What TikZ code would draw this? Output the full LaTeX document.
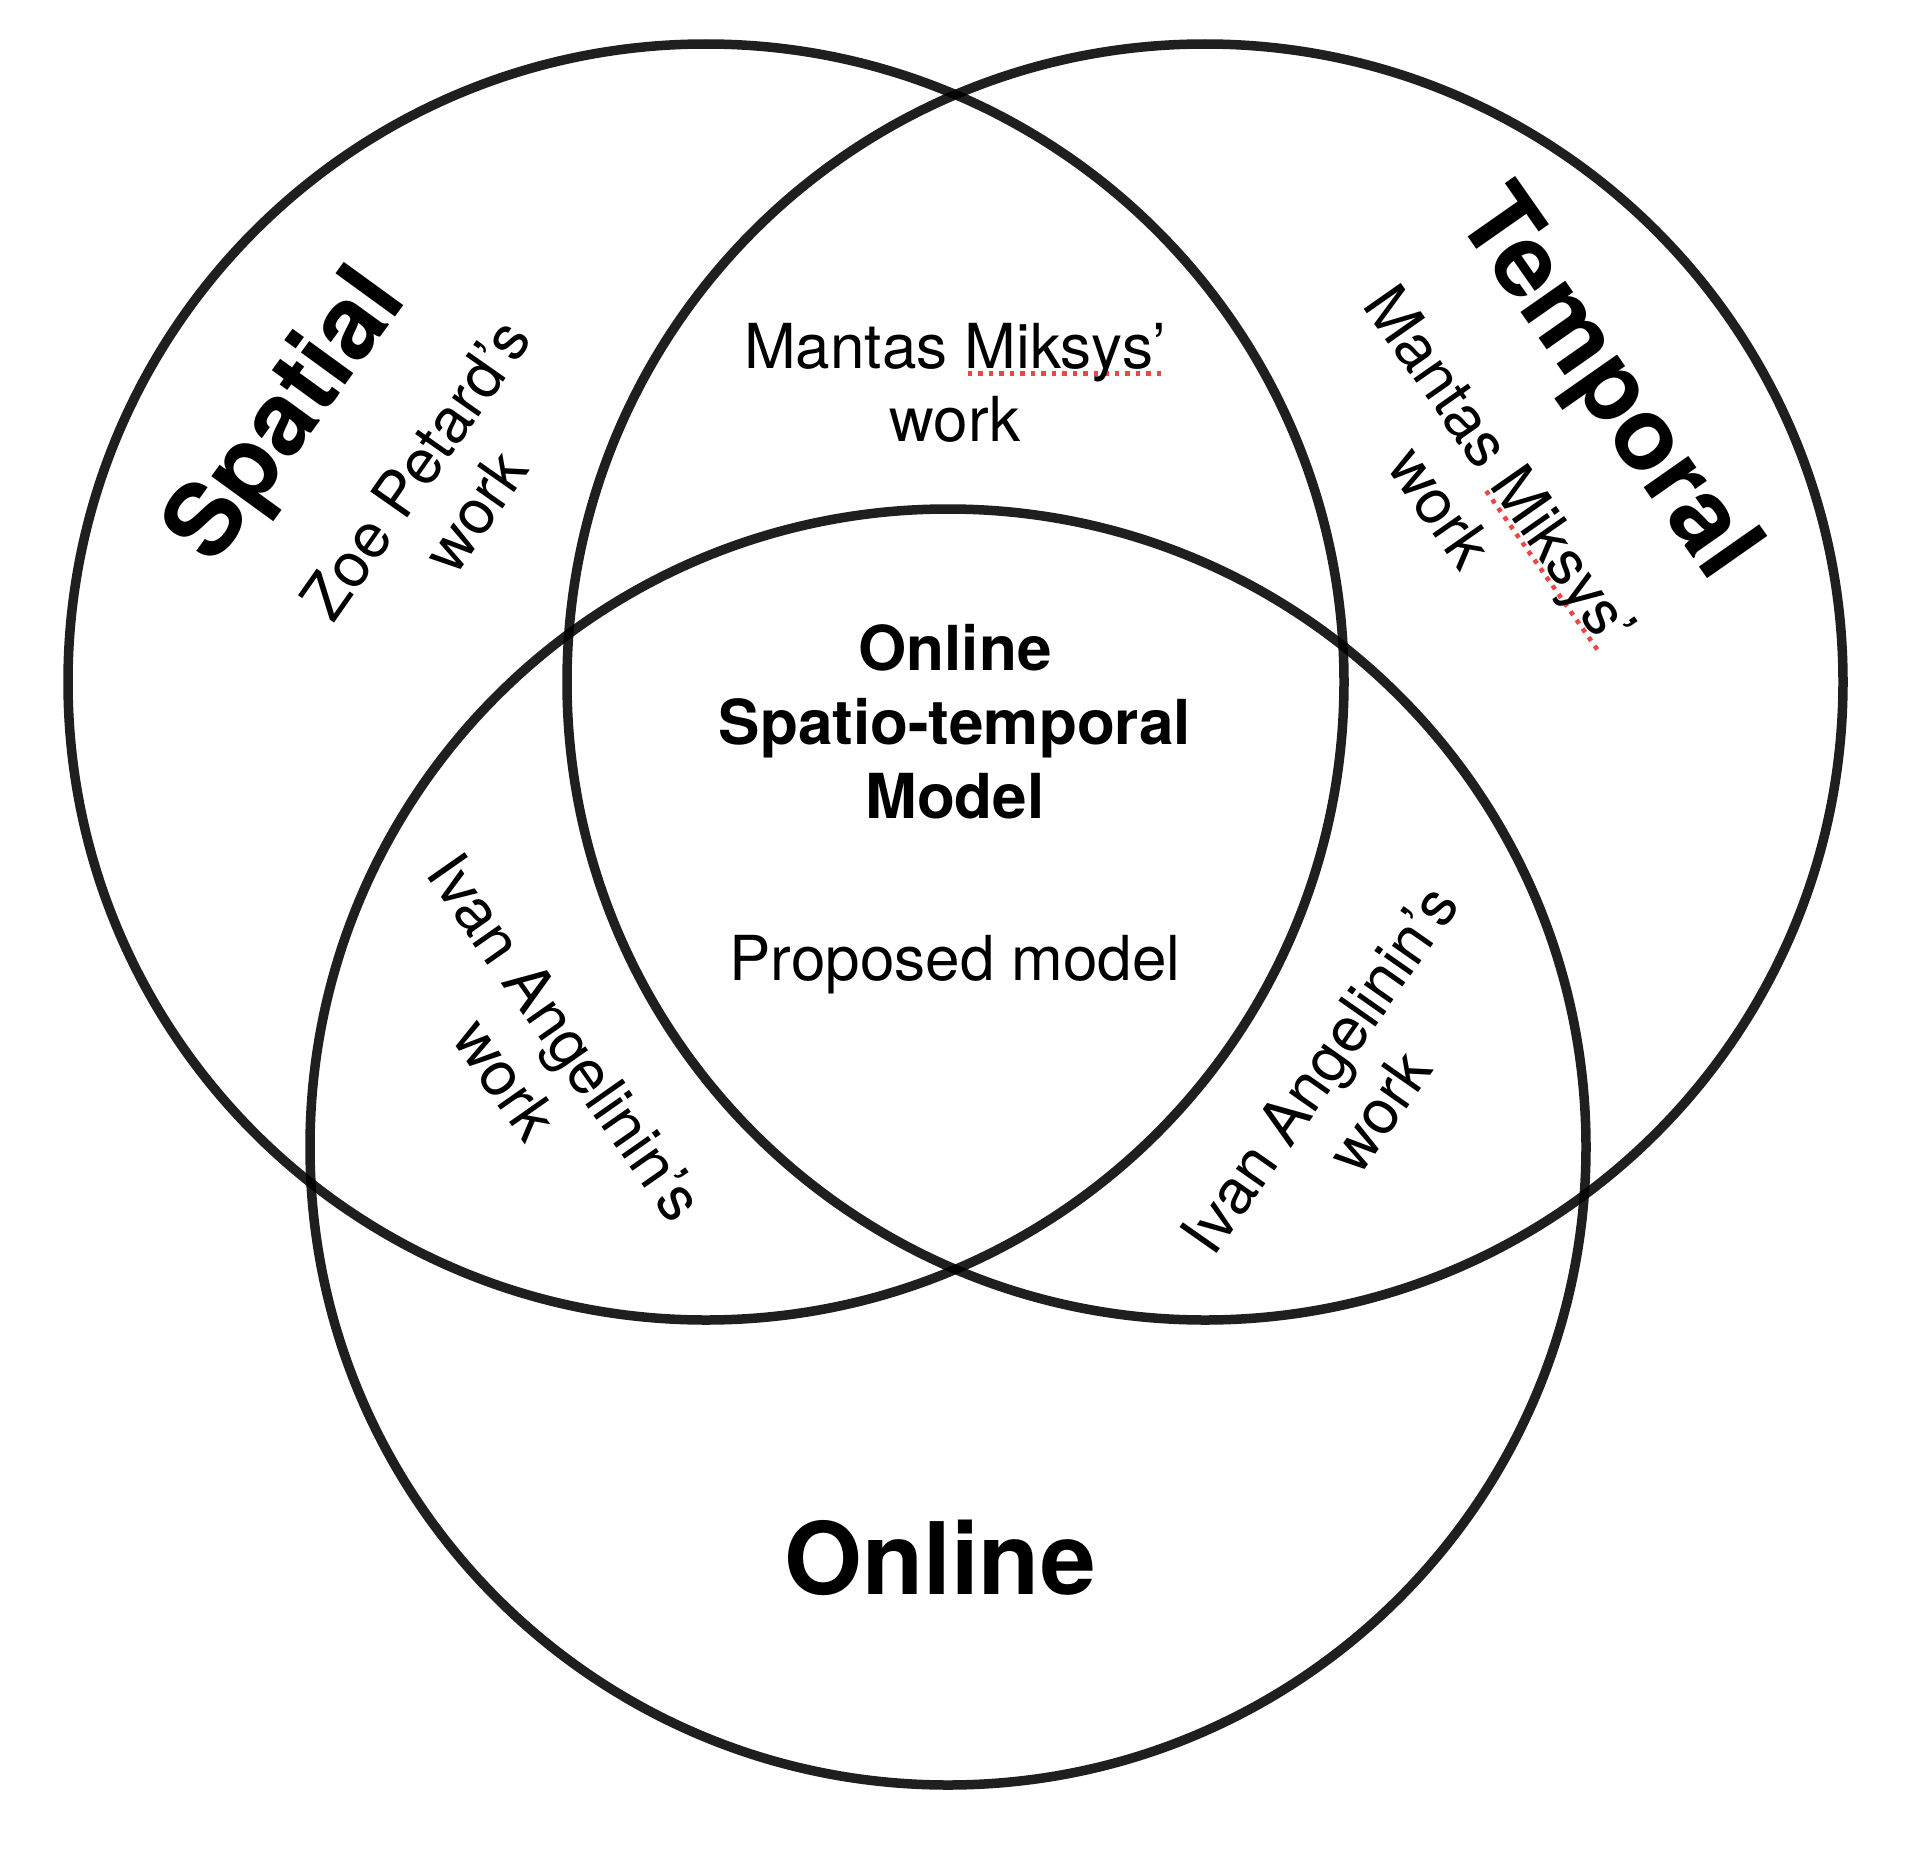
\documentclass[tikz,border=0pt]{standalone}
\usepackage{fontspec}
\setmainfont{TeX Gyre Heros}
\definecolor{ringgray}{HTML}{1E1E1E}
\definecolor{spellred}{HTML}{EE4444}
\newsavebox\spellbox
\newcommand\spellmark[1]{%
  \sbox\spellbox{#1}%
  \rlap{\raisebox{-7pt}{\textcolor{spellred}{\hbox to \wd\spellbox{\leaders\hbox to 10.5pt{\hss\rule{4.5pt}{4.5pt}\hss}\hfill}}}}#1}
\begin{document}
\begin{tikzpicture}[x=1pt,y=-1pt,
  ring/.style={line width=9.5pt, draw=black, draw opacity=0.88},
  worktxt/.style={align=center, inner sep=0pt, font=\fontsize{62}{73}\selectfont},
  coretxt/.style={align=center, inner sep=0pt, font=\fontsize{62}{74}\selectfont\bfseries},
  settxt/.style={inner sep=0pt, font=\fontsize{101}{115}\selectfont\bfseries},
  bigtxt/.style={inner sep=0pt, font=\fontsize{100}{115}\selectfont\bfseries}]
\useasboundingbox (0,0) rectangle (1920,1852);
\fill[white] (0,0) rectangle (1920,1852);
% circle centres
\coordinate (cs) at (706,682);
\coordinate (ct) at (1205,682);
\coordinate (co) at (948,1147);
\draw[ring] (cs) circle[radius=638];
\draw[ring] (ct) circle[radius=638];
\draw[ring] (co) circle[radius=638];
% set labels
\node[settxt, rotate=54] (spatial) at (289,418) {Spatial};
\node[settxt, rotate=-55] (temporal) at (1604,386) {Temporal};
\node[bigtxt, anchor=base] (online) at (940,1594) {Online};
% region labels
\node[worktxt] (mmtop) at (955,383) {Mantas \spellmark{Miksys’}\\work};
\node[worktxt, rotate=55] (zoe) at (445,490) {Zoe Petard’s\\work};
\node[worktxt, rotate=-55] (mmright) at (1471,486) {Mantas \spellmark{Miksys’}\\work};
\node[worktxt, rotate=-55] (ivanl) at (536,1058) {Ivan Angelinin’s\\work};
\node[worktxt, rotate=55] (ivanr) at (1349,1090) {Ivan Angelinin’s\\work};
\node[coretxt] (core) at (955,722) {Online\\Spatio-temporal\\Model};
\node[worktxt, anchor=base] (proposed) at (955,980) {Proposed model};
\end{tikzpicture}
\end{document}
